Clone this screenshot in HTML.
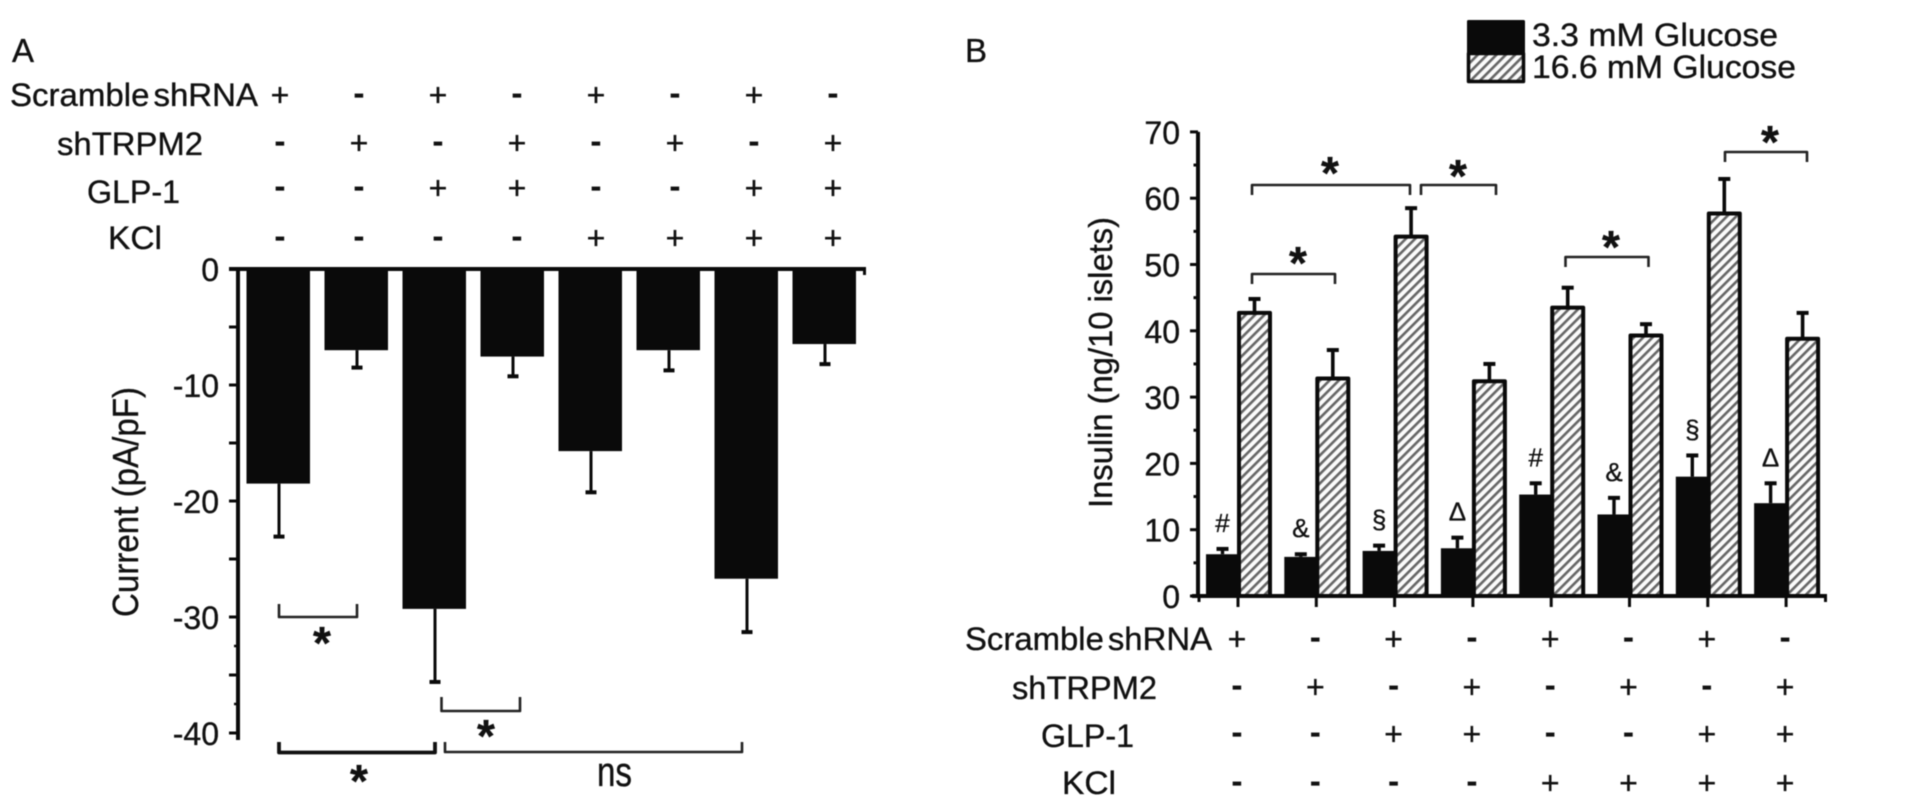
<!DOCTYPE html>
<html>
<head>
<meta charset="utf-8">
<style>
html,body{margin:0;padding:0;background:#fff;width:1919px;height:807px;overflow:hidden}
svg{display:block;filter:blur(.6px)}
text{font-family:"Liberation Sans",Arial,sans-serif;fill:#111;stroke:#111;stroke-width:.35px}
</style>
</head>
<body>
<svg id="figure" xmlns="http://www.w3.org/2000/svg" width="1919" height="807" viewBox="0 0 1919 807">
<defs>
<pattern id="hatch" patternUnits="userSpaceOnUse" width="6.6" height="6.6" patternTransform="rotate(45)">
<rect width="6.6" height="6.6" fill="#fbfbfb"/>
<rect width="2.6" height="6.6" fill="#666"/>
</pattern>
</defs>
<rect width="1919" height="807" fill="#fff"/>

<text x="12" y="62" font-size="33">A</text>
<text x="965" y="62" font-size="33">B</text>

<text x="10" y="106" font-size="32" word-spacing="-5" textLength="248" lengthAdjust="spacingAndGlyphs">Scramble shRNA</text>
<text x="57" y="155" font-size="32" textLength="146" lengthAdjust="spacingAndGlyphs">shTRPM2</text>
<text x="87" y="203" font-size="32" textLength="93" lengthAdjust="spacingAndGlyphs">GLP-1</text>
<text x="108" y="249" font-size="32" textLength="54" lengthAdjust="spacingAndGlyphs">KCl</text>

<text x="965" y="650" font-size="32" word-spacing="-5" textLength="247" lengthAdjust="spacingAndGlyphs">Scramble shRNA</text>
<text x="1012" y="699" font-size="32" textLength="145" lengthAdjust="spacingAndGlyphs">shTRPM2</text>
<text x="1041" y="747" font-size="32" textLength="93" lengthAdjust="spacingAndGlyphs">GLP-1</text>
<text x="1062" y="794" font-size="32" textLength="54" lengthAdjust="spacingAndGlyphs">KCl</text>

<text transform="translate(138,617) rotate(-90)" font-size="36" textLength="230" lengthAdjust="spacingAndGlyphs">Current (pA/pF)</text>
<text transform="translate(1112,508) rotate(-90)" font-size="33" textLength="291" lengthAdjust="spacingAndGlyphs">Insulin (ng/10 islets)</text>

<g>
<rect x="1468.5" y="21.5" width="55" height="32" fill="#0a0a0a" stroke="#0a0a0a" stroke-width="3" stroke-linejoin="round"/>
<rect x="1468.5" y="53.5" width="55" height="28" fill="url(#hatch)" stroke="#0a0a0a" stroke-width="3.5" stroke-linejoin="round"/>
<text x="1532" y="46" font-size="32" textLength="246" lengthAdjust="spacingAndGlyphs">3.3 mM Glucose</text>
<text x="1532" y="78" font-size="32" textLength="264" lengthAdjust="spacingAndGlyphs">16.6 mM Glucose</text>
</g>

<g fill="none" stroke="#222" stroke-width="2.6" stroke-linejoin="round">
<path d="M279 604V617H357V604"/>
<path d="M441.5 697V711H520V697"/>
<path d="M279 742V752.5H435V742" stroke-width="3.8" stroke="#111"/>
<path d="M445 742V752H742V742"/>
<path d="M1252 195V185H1410V195"/>
<path d="M1421 195V185H1496V195"/>
<path d="M1252 284V274H1335V284"/>
<path d="M1565.5 267V257H1648.5V267"/>
<path d="M1725 162V152H1807V162"/>
</g>
<g font-size="46" font-weight="bold" text-anchor="middle">
<text x="322" y="659">*</text>
<text x="486" y="752">*</text>
<text x="359" y="797">*</text>
<text x="1330" y="189">*</text>
<text x="1458" y="192">*</text>
<text x="1298" y="279">*</text>
<text x="1611" y="263">*</text>
<text x="1770" y="158">*</text>
</g>
<text x="614.5" y="786" font-size="42" text-anchor="middle" textLength="35" lengthAdjust="spacingAndGlyphs">ns</text>
<g id="chartA"></g>
<g id="chartB"></g>
</svg>
<script>
// Panel A: current density
const currentCategories = ['1','2','3','4','5','6','7','8'];
const currentValues = [-18.5,-7.0,-29.3,-7.55,-15.7,-7.0,-26.7,-6.47];
const currentErrorEnds = [-23.07,-8.5,-35.6,-9.25,-19.25,-8.74,-31.3,-8.2];
const currentTicks = [0,-10,-20,-30,-40];
const currentMinorTicks = [-5,-15,-25,-35];
const currentNubTicks = [-32.5,-37.5];

// Panel B: insulin secretion
const lowGlucoseValues = [6.3,5.9,6.8,7.2,15.3,12.3,18.0,14.0];
const lowGlucoseErrorEnds = [7.1,6.3,7.6,8.8,17.0,14.8,21.2,17.0];
const highGlucoseValues = [42.7,32.8,54.2,32.4,43.5,39.3,57.7,38.8];
const highGlucoseErrorEnds = [44.8,37.1,58.5,35.0,46.5,41.0,62.9,42.7];
const lowGlucoseMarks = ['#','&','§','Δ','#','&','§','Δ'];
const insulinTicks = [0,10,20,30,40,50,60,70];
const insulinMinorTicks = [5,15,25,35,45,55,65];

// Treatment grid, shared by both panels
const scrambleRow = ['+','-','+','-','+','-','+','-'];
const shTrpm2Row = ['-','+','-','+','-','+','-','+'];
const glpRow = ['-','-','+','+','-','-','+','+'];
const kclRow = ['-','-','-','-','+','+','+','+'];
const treatmentRows = [scrambleRow, shTrpm2Row, glpRow, kclRow];

const NS = 'http://www.w3.org/2000/svg';
function mk(parent, tag, attrs, name, label) {
  const el = document.createElementNS(NS, tag);
  for (const k in attrs) el.setAttribute(k, attrs[k]);
  
  
  if (label !== undefined) el.textContent = label;
  parent.appendChild(el);
  return el;
}
function line(parent, x1, y1, x2, y2, w, name) {
  return mk(parent, 'line', {x1, y1, x2, y2, stroke: '#0a0a0a', 'stroke-width': w}, name);
}
function signs(parent, colX, rowY, prefix) {
  treatmentRows.forEach((row, r) => {
    row.forEach((s, c) => {
      const plus = s === '+';
      mk(parent, 'text', {
        x: colX(c), y: rowY(r) + (plus ? 11 : 9), 'font-size': 32, 'text-anchor': 'middle',
        'font-weight': plus ? 'normal' : 'bold'
      }, prefix + '-sign-r' + (r + 1) + '-c' + (c + 1), s);
    });
  });
}

// ---- Panel A ----
const A = document.getElementById('chartA');
const yA = v => 269 - v * 11.6;
const barAx = i => 246.5 + i * 78;
const barAw = 63.5;
currentCategories.forEach((c, i) => {
  const x = barAx(i), cx = x + 32.5;
  line(A, cx, yA(currentValues[i]), cx, yA(currentErrorEnds[i]), 3, 'current-error-bar-' + c);
  line(A, cx - 5.5, yA(currentErrorEnds[i]), cx + 5.5, yA(currentErrorEnds[i]), 4, 'current-error-cap-' + c);
  mk(A, 'rect', {x, y: yA(0), width: barAw, height: yA(currentValues[i]) - yA(0), fill: '#0a0a0a'}, 'current-bar-' + c);
});
line(A, 238, yA(0), 238, 740, 4, 'current-y-axis');
line(A, 229, yA(0), 866, yA(0), 4, 'current-zero-axis');
line(A, 864.5, yA(0), 864.5, yA(0) + 6, 3, 'current-axis-end-tick');
currentTicks.forEach(t => {
  line(A, 229, yA(t), 238, yA(t), 3, 'current-y-tick-' + t);
  mk(A, 'text', {x: 219, y: yA(t) + 12, 'font-size': 32, 'text-anchor': 'end'}, 'current-y-tick-label-' + t, String(t));
});
currentMinorTicks.forEach(t => {
  line(A, 229, yA(t), 238, yA(t), 3, 'current-y-minor-tick-' + t);
});
currentNubTicks.forEach(t => {
  line(A, 234, yA(t), 238, yA(t), 2.5, 'current-y-nub-tick-' + t);
});
signs(A, c => 280 + c * 79, r => [95, 143, 188, 238][r], 'a');

// ---- Panel B ----
const B = document.getElementById('chartB');
const yB = v => 596 - v * 6.63;
const tickBx = i => 1238 + i * 78.3;
lowGlucoseValues.forEach((v, i) => {
  const n = i + 1, t = tickBx(i);
  const lowCx = t - 15.5, highCx = t + 16.5;
  line(B, lowCx, yB(v), lowCx, yB(lowGlucoseErrorEnds[i]), 3.4, 'low-glucose-error-bar-' + n);
  line(B, lowCx - 6, yB(lowGlucoseErrorEnds[i]), lowCx + 6, yB(lowGlucoseErrorEnds[i]), 4, 'low-glucose-error-cap-' + n);
  mk(B, 'rect', {x: t - 32, y: yB(v), width: 33, height: yB(0) - yB(v), fill: '#0a0a0a'}, 'low-glucose-bar-' + n);
  const h = highGlucoseValues[i];
  line(B, highCx, yB(h), highCx, yB(highGlucoseErrorEnds[i]), 3.6, 'high-glucose-error-bar-' + n);
  line(B, highCx - 6, yB(highGlucoseErrorEnds[i]), highCx + 6, yB(highGlucoseErrorEnds[i]), 4, 'high-glucose-error-cap-' + n);
  mk(B, 'rect', {x: t + 1, y: yB(h), width: 31, height: yB(0) - yB(h), fill: 'url(#hatch)', stroke: '#0a0a0a', 'stroke-width': 4, 'stroke-linejoin': 'round'}, 'high-glucose-bar-' + n);
  mk(B, 'text', {x: lowCx, y: yB(lowGlucoseErrorEnds[i]) - 17, 'font-size': 26, 'text-anchor': 'middle'}, 'low-glucose-mark-' + n, lowGlucoseMarks[i]);
  line(B, t, yB(0), t, yB(0) + 11, 3, 'x-tick-' + n);
});
line(B, 1198, yB(70), 1198, yB(0), 4, 'insulin-y-axis');
line(B, 1192, yB(0), 1827, yB(0), 4, 'insulin-x-axis');
line(B, 1825.5, yB(0), 1825.5, yB(0) + 6, 3, 'insulin-axis-end-tick');
line(B, 1199, yB(0), 1199, yB(0) + 6, 3, 'insulin-axis-start-tick');
insulinTicks.forEach(t => {
  line(B, 1190, yB(t), 1198, yB(t), 3, 'insulin-y-tick-' + t);
  mk(B, 'text', {x: 1180, y: yB(t) + 12, 'font-size': 32, 'text-anchor': 'end'}, 'insulin-y-tick-label-' + t, String(t));
});
insulinMinorTicks.forEach(t => {
  line(B, 1193.5, yB(t), 1198, yB(t), 3, 'insulin-y-minor-tick-' + t);
});
signs(B, c => 1237 + c * 78.3, r => [639, 687, 734, 783][r], 'b');
</script>
</body>
</html>
